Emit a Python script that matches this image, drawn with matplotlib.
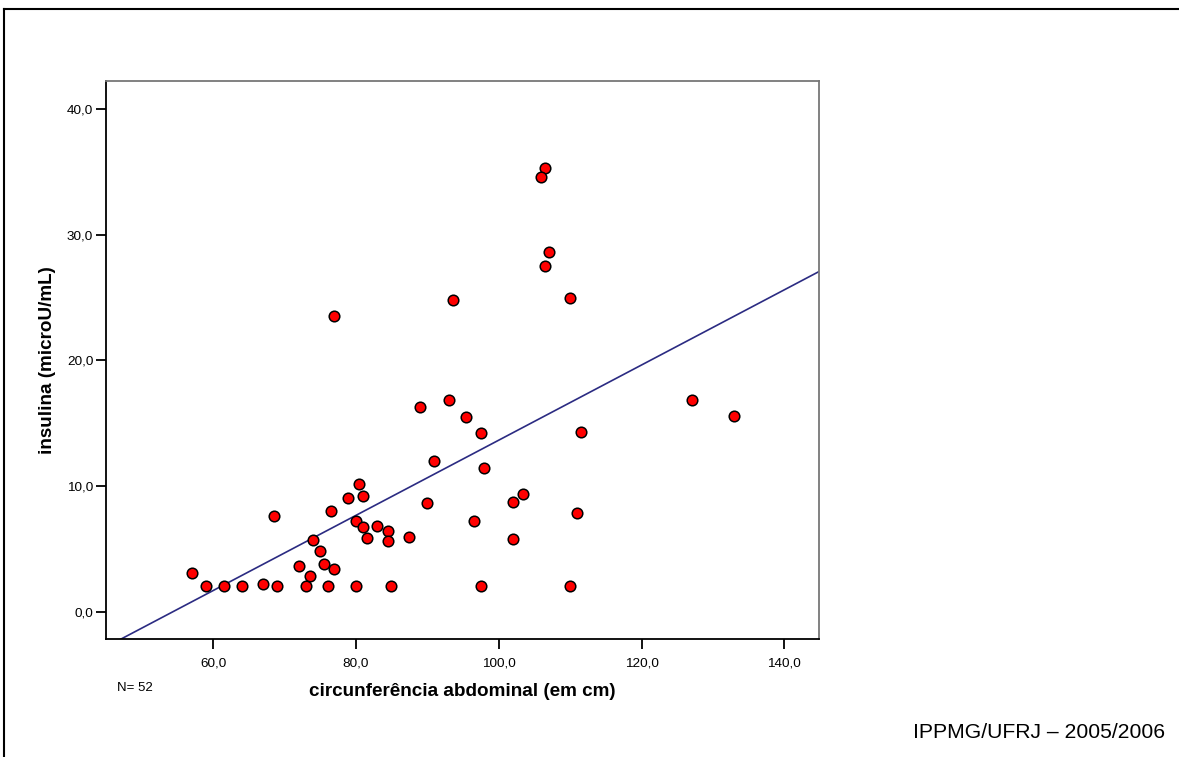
import numpy as np
import matplotlib
matplotlib.use("Agg")
import matplotlib.pyplot as plt
from matplotlib.lines import Line2D

plt.rcParams['font.family'] = ['Liberation Sans', 'DejaVu Sans']

# Data (circumference in cm, insulin in microU/mL)
circunferencia = [56.97, 58.98, 61.50, 64.02, 66.96, 68.97, 68.46, 72.01, 72.99, 73.51,
                  73.97, 74.95, 75.47, 76.14, 76.98, 76.49, 76.98, 78.91, 80.46, 80.97,
                  79.95, 80.97, 82.98, 84.48, 81.49, 84.48, 87.42, 79.95, 84.94, 88.96,
                  92.98, 95.45, 97.51, 90.96, 97.93, 89.98, 93.58, 96.48, 97.51, 101.95,
                  103.43, 101.95, 106.47, 105.91, 106.99, 106.47, 109.98, 109.98, 111.0, 111.47,
                  127.03, 133.0]
insulina = [3.10, 2.02, 2.02, 2.02, 2.20, 2.02, 7.61, 3.61, 2.02, 2.82,
            5.73, 4.83, 3.82, 2.02, 3.42, 8.01, 23.52, 9.02, 10.14, 9.23,
            7.22, 6.71, 6.82, 6.42, 5.84, 5.62, 5.94, 2.02, 2.02, 16.31,
            16.82, 15.51, 14.22, 12.01, 11.41, 8.62, 24.80, 7.24, 2.02, 8.73,
            9.34, 5.76, 35.32, 34.61, 28.62, 27.50, 24.93, 2.02, 7.83, 14.30,
            16.82, 15.59]

xticks = [60, 80, 100, 120, 140]
xtick_labels = ["60,0", "80,0", "100,0", "120,0", "140,0"]
yticks = [0, 10, 20, 30, 40]
ytick_labels = ["0,0", "10,0", "20,0", "30,0", "40,0"]

fig = plt.figure(figsize=(11.79, 7.57), dpi=100)
ax = fig.add_axes([105.7/1179, 1-639.3/757, (819.3-105.7)/1179, (639.3-81)/757])

x = np.array(circunferencia)
y = np.array(insulina)
slope, intercept = np.polyfit(x, y, 1)

xlim = (44.93, 144.9)
ylim = (-2.2, 42.23)
xx = np.array(xlim)
ax.plot(xx, intercept + slope * xx, color='#2b2b82', lw=1.2, zorder=2)
ax.scatter(x, y, s=58, facecolor='#ff0000', edgecolor='black', linewidths=1.1, zorder=3)

ax.set_xlim(*xlim)
ax.set_ylim(*ylim)
ax.set_xticks(xticks)
ax.set_xticklabels(xtick_labels)
ax.set_yticks(yticks)
ax.set_yticklabels(ytick_labels)
ax.tick_params(axis='both', direction='out', length=7, width=1.3, labelsize=9.7, colors='black')
ax.tick_params(axis='x', pad=6)
ax.tick_params(axis='y', pad=2)
for s in ['left', 'bottom']:
    ax.spines[s].set_color('black')
    ax.spines[s].set_linewidth(1.3)
for s in ['right', 'top']:
    ax.spines[s].set_color('#777777')
    ax.spines[s].set_linewidth(1.3)

ax.set_xlabel("circunferência abdominal (em cm)", fontsize=13.6, fontweight='bold', labelpad=10)
ax.set_ylabel("insulina (microU/mL)", fontsize=13.6, fontweight='bold', labelpad=7.5)

fig.text(117/1179, 1-688/757, "N= 52", fontsize=9.5, ha='left', va='center')
fig.text(1165/1179, 1-733/757, "IPPMG/UFRJ \u2013 2005/2006", fontsize=15.2, ha='right', va='center')

# Outer frame lines (top and left)
fig.add_artist(Line2D([4/1179, 1.0], [1-9/757, 1-9/757], color='black', lw=1.5, transform=fig.transFigure))
fig.add_artist(Line2D([4/1179, 4/1179], [1-9/757, 0.0], color='black', lw=1.5, transform=fig.transFigure))

fig.savefig("out.png", dpi=100)
